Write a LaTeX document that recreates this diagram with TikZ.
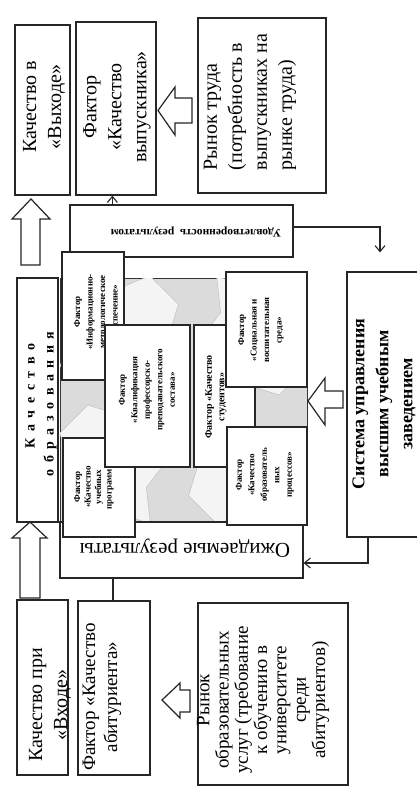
\documentclass[tikz,border=0pt]{standalone}
\usepackage{fontspec}
\setmainfont{Liberation Serif}
\usetikzlibrary{arrows.meta}
\newcommand\lk{\kern6.5pt}
\begin{document}
\begin{tikzpicture}[x=1pt,y=-1pt,
  box/.style={draw=black!85, line width=1.2pt, fill=white, inner sep=0pt},
  bigtxt/.style={rotate=90, align=center, font=\fontsize{20}{25}\selectfont, inner sep=0pt},
  factxt/.style={rotate=90, align=center, font=\bfseries\fontsize{9}{12.5}\selectfont, inner sep=0pt},
  edutxt/.style={rotate=90, font=\bfseries\fontsize{14}{20}\selectfont, inner sep=0pt},
  blockarrow/.style={draw=black!85, line width=1.2pt, fill=white, line join=miter},
  conn/.style={draw=black!85, line width=1.1pt},
  tipb/.style={-{Straight Barb[length=6pt,width=10pt,line width=1.1pt]}},
  petal/.style={fill=gray!9, draw=gray!50, line width=0.5pt}
]
\useasboundingbox (0,0) rectangle (417,789);
\fill[white] (0,0) rectangle (417,789);

% top row
\node[box, minimum width=55pt, minimum height=170pt] (outQ) at (42.5,110) {};
\node[bigtxt] (outQt) at (44,107) {Качество в\\«Выходе»};
\node[box, minimum width=80pt, minimum height=173pt] (grad) at (116,108.5) {};
\node[bigtxt] (gradt) at (117,107) {Фактор\\«Качество\\выпускника»};
\node[box, minimum width=128pt, minimum height=175pt] (labor) at (262,105.5) {};
\node[bigtxt, align=left] (labort) at (250,102) {Рынок труда\\(потребность в\\выпускниках на\\рынке труда)};
\draw[blockarrow] (158,110.5) -- (175,87) -- (175,98) -- (192,98) -- (192,123) -- (175,123) -- (175,135) -- cycle;

% satisfaction box
\node[box, minimum width=223pt, minimum height=52pt] (sat) at (181.5,231) {};
\node[rotate=180, font=\bfseries\fontsize{11.5}{13}\selectfont, inner sep=0pt] (satt) at (196,232) {Удовлетворенность\ \ результатом};
\draw[conn,tipb] ([xshift=43pt]sat.north west) -- ([xshift=43pt]sat.north west |- grad.south);
\draw[blockarrow] (31,199) -- (50,219) -- (40,219) -- (40,265) -- (21,265) -- (21,219) -- (12,219) -- cycle;

% quality of education
\node[box, minimum width=41pt, minimum height=244pt] (edu) at (37.5,400) {};
\node[edutxt] (edut1) at (30,396) {К\lk а\lk ч\lk е\lk с\lk т\lk в\lk о};
\node[edutxt] (edut2) at (50,404) {о\lk б\lk р\lk а\lk з\lk о\lk в\lk а\lk н\lk и\lk я};

% core gray square
\node[draw=black!80, line width=0.9pt, fill=gray!28, minimum width=247pt, minimum height=244pt, inner sep=0pt] (core) at (183.5,400) {};
\begin{scope}
\clip (60,278) rectangle (307,522);
\begin{scope}[shift={(183.5,400)}]
\foreach \a in {15,105,195,285}{
  \draw[petal] plot[domain=\a:\a+60,samples=20] (\x:128) -- (\a+72:96) -- plot[domain=\a+60:\a,samples=20] (\x:62) -- (\a+8:95) -- cycle;
}
\end{scope}
\end{scope}

% expected results
\node[box, minimum width=243pt, minimum height=56pt] (exp) at (181.5,550) {};
\node[rotate=180, font=\fontsize{21}{25}\selectfont, inner sep=0pt] (expt) at (185,548) {Ожидаемые результаты};

% factor boxes
\node[box, minimum width=62pt, minimum height=128pt] (finfo) at (93,316) {};
\node[factxt] (finfot) at (96,312) {Фактор\\«Информационно-\\методологическое\\обеспечение»};
\node[box, minimum width=72pt, minimum height=99pt] (fprog) at (99,487.5) {};
\node[factxt, font=\bfseries\fontsize{9}{10.5}\selectfont] (fprogt) at (94,487) {Фактор\\«Качество\\учебных\\программ»};
\node[box, minimum width=85pt, minimum height=142pt] (fqual) at (147.5,396) {};
\node[factxt] (fqualt) at (147,390) {Фактор\\«Квалификация\\профессорско-\\преподавательского\\состава»};
\node[box, minimum width=61pt, minimum height=142pt] (fstud) at (224.5,396) {};
\node[factxt, font=\bfseries\fontsize{10}{12.5}\selectfont] (fstudt) at (216,397) {Фактор «Качество\\студентов»};
\node[box, minimum width=81pt, minimum height=115pt] (fsoc) at (266.5,329.5) {};
\node[factxt] (fsoct) at (261,330) {Фактор\\«Социальная и\\воспитательная\\среда»};
\node[box, minimum width=80pt, minimum height=98pt] (fproc) at (267,476) {};
\node[factxt] (fproct) at (265,475) {Фактор\\«Качество\\образователь\\ных\\процессов»};

% management system
\node[box, minimum width=83pt, minimum height=265pt] (sys) at (388.5,404.5) {};
\node[rotate=90, align=center, font=\bfseries\fontsize{18}{24}\selectfont, inner sep=0pt] (syst) at (384,404) {Система управления\\высшим учебным\\заведением};
\draw[blockarrow] (308,401) -- (325,378) -- (325,391) -- (343,391) -- (343,408) -- (325,408) -- (325,425) -- cycle;
\draw[conn,tipb] ([yshift=4pt]sat.east) -| ([xshift=-8.5pt,yshift=19pt]sys.north);
\draw[conn,tipb] ([xshift=-20.5pt]sys.south) |- ([yshift=-13pt]exp.east);

% bottom row
\draw[blockarrow] (30,522) -- (47,538) -- (40,538) -- (40,598) -- (20,598) -- (20,538) -- (12,538) -- cycle;
\node[box, minimum width=51pt, minimum height=175pt] (inQ) at (42.5,687.5) {};
\node[bigtxt] (inQt) at (50,705) {Качество при\\«Входе»};
\node[box, minimum width=72pt, minimum height=174pt] (abit) at (114,688) {};
\node[bigtxt, font=\fontsize{19}{22}\selectfont] (abitt) at (102,697) {Фактор «Качество\\абитуриента»};
\node[box, minimum width=150pt, minimum height=182pt] (edm) at (273,694) {};
\node[bigtxt, font=\fontsize{19}{19.3}\selectfont] (edmt) at (263,700) {Рынок\\образовательных\\услуг (требование\\к обучению в\\университете\\среди\\абитуриентов)};
\draw[blockarrow] (162,700) -- (180,683) -- (180,690) -- (190,690) -- (190,712) -- (180,712) -- (180,718) -- cycle;
\draw[conn] ([xshift=-68.5pt]exp.south) -- ([xshift=-68.5pt]exp.south |- abit.north);
\end{tikzpicture}
\end{document}
